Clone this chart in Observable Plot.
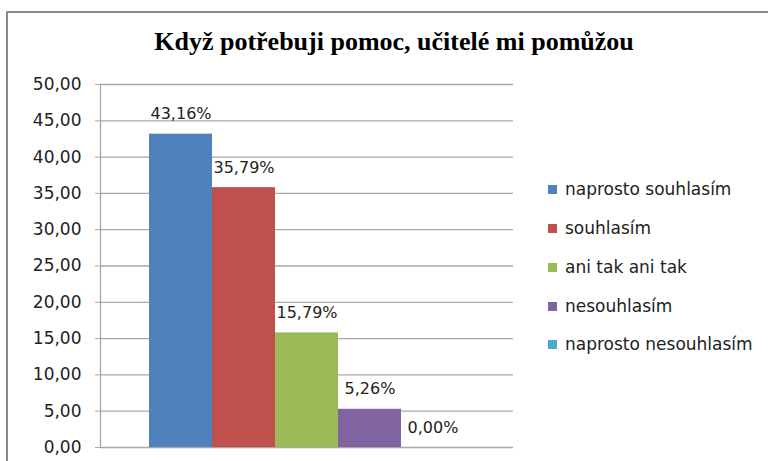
<!DOCTYPE html>
<html>
<head>
<meta charset="utf-8">
<script src="https://cdn.jsdelivr.net/npm/d3@7"></script>
<script src="https://cdn.jsdelivr.net/npm/@observablehq/plot@0.6"></script>
<style>
  html, body { margin: 0; padding: 0; background: #fff; }
  #wrap { position: relative; width: 768px; height: 461px; overflow: hidden; background: #fff; }
  #frame { position: absolute; left: 6px; top: 11px; width: 800px; height: 500px;
           border-top: 2px solid #8a8a8a; border-left: 2px solid #8a8a8a; box-sizing: border-box; }
  #title { position: absolute; left: 0; width: 788px; top: 26px; text-align: center;
           font-family: "Liberation Serif", serif; font-weight: bold; font-size: 26px; line-height: 32px; color: #000; }
  #chart { position: absolute; left: 0; top: 0; }
  .leg { position: absolute; left: 548px; font-family: "DejaVu Sans", sans-serif; font-size: 17px; color: #222; white-space: nowrap; }
  .leg .sw { position: absolute; left: 0; top: -4.5px; width: 9px; height: 9px; }
  .leg .tx { position: absolute; left: 17px; top: -12px; line-height: 24px; }
</style>
</head>
<body>
<div id="wrap">
  <div id="frame"></div>
  <div id="chart"></div>
  <div id="title">Když potřebuji pomoc, učitelé mi pomůžou</div>
  <div id="legend"></div>
</div>
<script>
const categories = ["naprosto souhlasím", "souhlasím", "ani tak ani tak", "nesouhlasím", "naprosto nesouhlasím"];
const values = [43.16, 35.79, 15.79, 5.26, 0.00];
const colors = ["#4F81BD", "#C0504D", "#9BBB59", "#8064A2", "#4BACC6"];
const yTicks = [0, 5, 10, 15, 20, 25, 30, 35, 40, 45, 50];

const data = categories.map((c, i) => ({category: c, value: values[i]}));
const fmtTick = d => d.toFixed(2).replace(".", ",");
const fmtLabel = d => d.toFixed(2).replace(".", ",") + "%";

const chart = Plot.plot({
  width: 768,
  height: 461,
  marginTop: 84,
  marginBottom: 14,
  marginLeft: 100,
  marginRight: 255,
  style: {fontFamily: "DejaVu Sans, sans-serif", fontSize: "16px", color: "#222", background: "transparent"},
  x: {type: "band", domain: categories, paddingInner: 0, paddingOuter: 0.745, axis: null},
  y: {domain: [0, 50], ticks: yTicks, tickFormat: fmtTick, label: null},
  color: {domain: categories, range: colors},
  marks: [
    Plot.ruleY(yTicks, {stroke: "#a8a8a8", strokeWidth: 1.3}),
    Plot.frame({anchor: "left", stroke: "#a8a8a8", strokeWidth: 1.3}),
    Plot.axisY({ticks: yTicks, tickFormat: fmtTick, tickSize: 5, tickPadding: 14, stroke: "#a8a8a8", fill: "#222", fontSize: 17, label: null}),
    Plot.barY(data, {x: "category", y: "value", fill: "category"}),
    Plot.text(data, {x: "category", y: "value", text: d => fmtLabel(d.value), dy: -20, fill: "#222", fontSize: 16})
  ]
});
document.getElementById("chart").appendChild(chart);

const legendY = [189, 228, 267, 306, 344];
const legend = document.getElementById("legend");
categories.forEach((c, i) => {
  const item = document.createElement("div");
  item.className = "leg";
  item.style.top = legendY[i] + "px";
  item.innerHTML = `<div class="sw" style="background:${colors[i]}"></div><div class="tx"></div>`;
  item.querySelector(".tx").textContent = c;
  legend.appendChild(item);
});
</script>
</body>
</html>
